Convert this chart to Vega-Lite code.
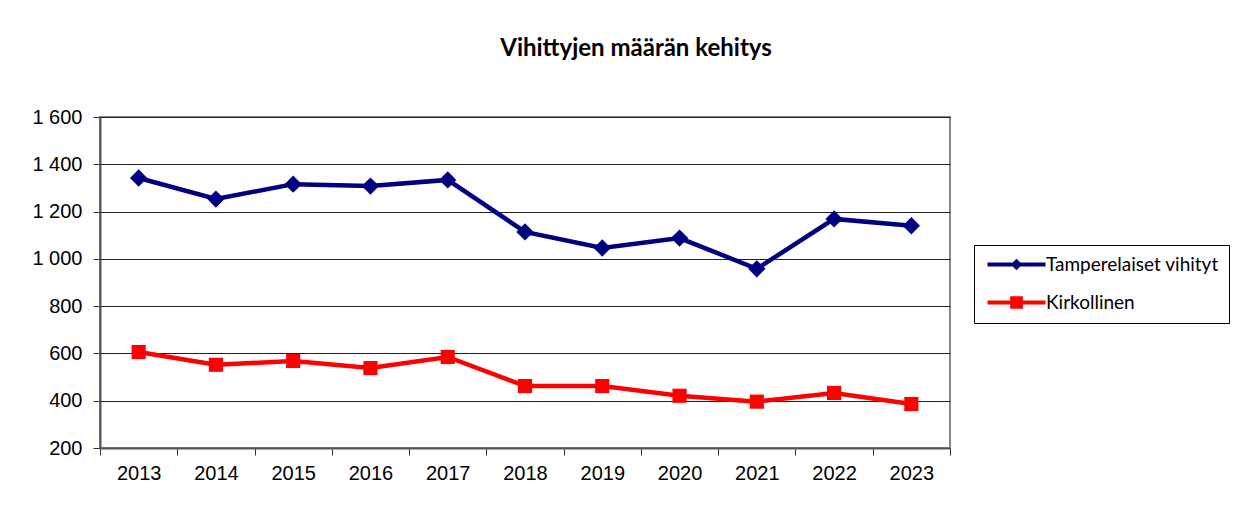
{
  "$schema": "https://vega.github.io/schema/vega-lite/v6.json",
  "autosize": {"type": "none"},
  "padding": {"left": 100, "top": 117, "right": 293, "bottom": 76},
  "width": 850,
  "height": 331,
  "background": "white",
  "title": {
    "text": "Vihittyjen määrän kehitys",
    "font": "Lato",
    "fontSize": 24,
    "fontWeight": "bold",
    "color": "black",
    "anchor": "middle",
    "frame": "group",
    "baseline": "alphabetic",
    "dx": 111,
    "offset": 27
  },
  "data": {
    "values": [
      {"vuosi": "2013", "sarja": "Tamperelaiset vihityt", "arvo": 1342},
      {"vuosi": "2014", "sarja": "Tamperelaiset vihityt", "arvo": 1253},
      {"vuosi": "2015", "sarja": "Tamperelaiset vihityt", "arvo": 1316},
      {"vuosi": "2016", "sarja": "Tamperelaiset vihityt", "arvo": 1308},
      {"vuosi": "2017", "sarja": "Tamperelaiset vihityt", "arvo": 1334},
      {"vuosi": "2018", "sarja": "Tamperelaiset vihityt", "arvo": 1114},
      {"vuosi": "2019", "sarja": "Tamperelaiset vihityt", "arvo": 1046},
      {"vuosi": "2020", "sarja": "Tamperelaiset vihityt", "arvo": 1088},
      {"vuosi": "2021", "sarja": "Tamperelaiset vihityt", "arvo": 958},
      {"vuosi": "2022", "sarja": "Tamperelaiset vihityt", "arvo": 1169},
      {"vuosi": "2023", "sarja": "Tamperelaiset vihityt", "arvo": 1140},
      {"vuosi": "2013", "sarja": "Kirkollinen", "arvo": 606},
      {"vuosi": "2014", "sarja": "Kirkollinen", "arvo": 552},
      {"vuosi": "2015", "sarja": "Kirkollinen", "arvo": 568},
      {"vuosi": "2016", "sarja": "Kirkollinen", "arvo": 538},
      {"vuosi": "2017", "sarja": "Kirkollinen", "arvo": 585},
      {"vuosi": "2018", "sarja": "Kirkollinen", "arvo": 462},
      {"vuosi": "2019", "sarja": "Kirkollinen", "arvo": 462},
      {"vuosi": "2020", "sarja": "Kirkollinen", "arvo": 421},
      {"vuosi": "2021", "sarja": "Kirkollinen", "arvo": 396},
      {"vuosi": "2022", "sarja": "Kirkollinen", "arvo": 433},
      {"vuosi": "2023", "sarja": "Kirkollinen", "arvo": 386}
    ]
  },
  "encoding": {
    "x": {
      "field": "vuosi",
      "type": "ordinal",
      "title": null,
      "scale": {"type": "band", "paddingInner": 0, "paddingOuter": 0},
      "axis": {
        "labelAngle": 0,
        "labelFont": "Liberation Sans",
        "labelFontSize": 20,
        "labelColor": "black",
        "labelPadding": 8,
        "tickBand": "extent",
        "tickSize": 7,
        "tickColor": "#333333",
        "domainColor": "#555555",
        "domainWidth": 2,
        "grid": false
      }
    },
    "y": {
      "field": "arvo",
      "type": "quantitative",
      "title": null,
      "scale": {"domain": [200, 1600], "nice": false, "zero": false},
      "axis": {
        "values": [200, 400, 600, 800, 1000, 1200, 1400, 1600],
        "labelExpr": "replace(format(datum.value, ','), ',', ' ')",
        "labelFont": "Liberation Sans",
        "labelFontSize": 20,
        "labelColor": "black",
        "labelPadding": 11,
        "tickSize": 7,
        "tickColor": "#333333",
        "domainColor": "#555555",
        "domainWidth": 2,
        "grid": true,
        "gridColor": "#222222",
        "gridWidth": 1,
        "gridOpacity": 1
      }
    },
    "color": {
      "field": "sarja",
      "type": "nominal",
      "scale": {
        "domain": ["Tamperelaiset vihityt", "Kirkollinen"],
        "range": ["#000080", "#FF0000"]
      },
      "legend": {
        "title": null,
        "orient": "none",
        "legendX": 874,
        "legendY": 128,
        "direction": "vertical",
        "padding": 10,
        "strokeColor": "black",
        "fillColor": "white",
        "labelFont": "Lato",
        "labelFontSize": 19,
        "labelLimit": 400,
        "labelColor": "black",
        "labelOffset": 43,
        "rowPadding": 18,
        "symbolSize": 100,
        "symbolStrokeWidth": 0,
        "symbolOpacity": 1,
        "symbolType": "M-1.2,-0.42H10.4V0.42H-1.2Z M4.6,-1.16L5.76,0L4.6,1.16L3.44,0Z",
        "encode": {
          "symbols": {
            "update": {
              "shape": {"signal": "datum.value === 'Kirkollinen' ? 'M-1.2,-0.42H10.4V0.42H-1.2Z M3.33,-1.27H5.87V1.27H3.33Z' : 'M-1.2,-0.42H10.4V0.42H-1.2Z M4.6,-1.16L5.76,0L4.6,1.16L3.44,0Z'"}
            }
          }
        }
      }
    }
  },
  "layer": [
    {
      "mark": {"type": "line", "strokeWidth": 4.5}
    },
    {
      "transform": [{"filter": "datum.sarja === 'Tamperelaiset vihityt'"}],
      "mark": {"type": "point", "filled": true, "opacity": 1, "shape": "diamond", "size": 300}
    },
    {
      "transform": [{"filter": "datum.sarja === 'Kirkollinen'"}],
      "mark": {"type": "point", "filled": true, "opacity": 1, "shape": "square", "size": 200}
    }
  ],
  "config": {
    "view": {"stroke": "#888888", "strokeWidth": 2}
  }
}
